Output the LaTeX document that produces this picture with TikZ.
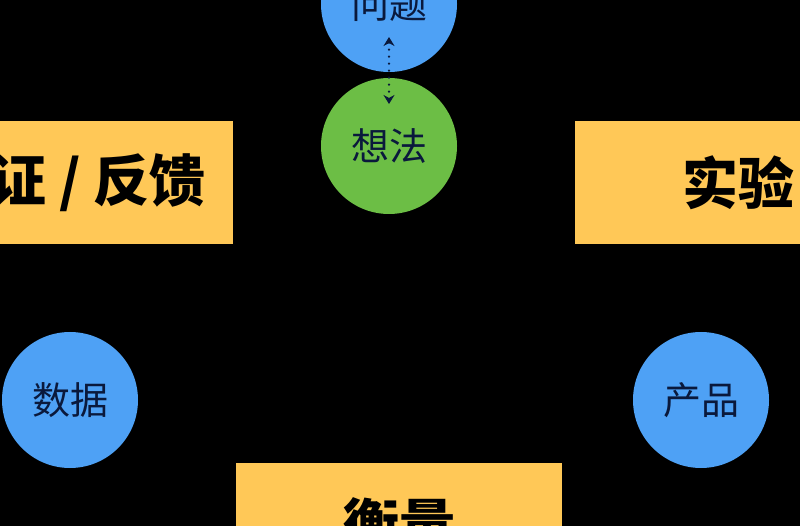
\documentclass[tikz,border=0pt]{standalone}
\usepackage{fontspec}
\newfontfamily\cjk{Noto Sans CJK SC}
\usetikzlibrary{arrows.meta}
\definecolor{ballblue}{RGB}{78,161,245}
\definecolor{ballgreen}{RGB}{108,190,69}
\definecolor{cardyellow}{RGB}{255,200,87}
\definecolor{navy}{RGB}{10,25,60}

\begin{document}
\begin{tikzpicture}[x=1pt,y=-1pt,
  ball/.style={circle,inner sep=0pt,minimum size=136pt,text=navy,font=\cjk\fontsize{38}{40}\selectfont},
  card/.style={rectangle,inner sep=0pt,minimum width=326pt,minimum height=123pt,fill=cardyellow,text=black,font=\cjk\bfseries\fontsize{56}{60}\selectfont}]
  \fill[black] (0,0) rectangle (800,526);
  \clip (0,0) rectangle (800,526);
  \path (389,4) node[ball,fill=ballblue] (wenti) {问题} (389,146) node[ball,fill=ballgreen] (xiangfa) {想法}
  (70,400) node[ball,fill=ballblue] (shuju) {数据} (701,400) node[ball,fill=ballblue] (chanpin) {产品};
  \path (70,182.5) node[card] (yanzheng) {验证 / 反馈} (738,182.5) node[card] (shiyan) {实验}
  (399,524.5) node[card] (hengliang) {衡量};
  \draw[navy,line width=2.5pt,line cap=round,dash pattern=on 0pt off 7pt,{Stealth[length=9pt,width=11pt]}-{Stealth[length=9pt,width=11pt]},shorten <=33pt,shorten >=42pt] (wenti.center) -- (xiangfa.center);
\end{tikzpicture}
\end{document}
